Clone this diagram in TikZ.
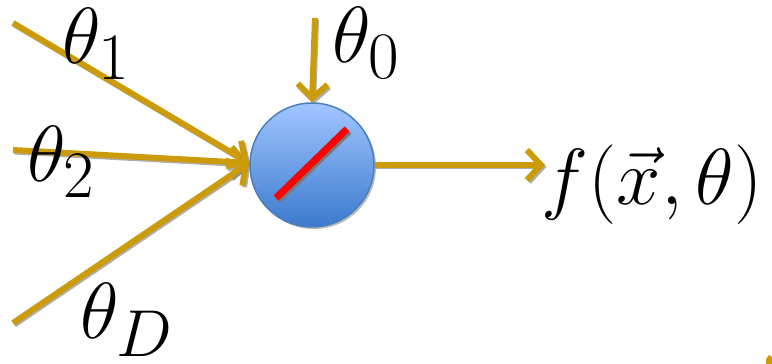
\documentclass[tikz,border=0pt]{standalone}
\usetikzlibrary{arrows.meta}
\definecolor{gold}{RGB}{204,155,10}
\definecolor{shadowgray}{RGB}{120,120,120}
\definecolor{ballTop}{RGB}{160,198,255}
\definecolor{ballBot}{RGB}{60,122,205}
\definecolor{ballEdge}{RGB}{74,126,190}
\tikzset{
  x=1pt,y=1pt,
  conn/.style={draw=gold, line width=6pt, -{Straight Barb[length=14pt,width=30pt,line width=6pt]}},
  connshadow/.style={draw=shadowgray, line width=5pt, -{Straight Barb[length=14pt,width=30pt,line width=5pt]}, opacity=0.6, transform canvas={shift={(1.5pt,-2pt)}}},
  lab/.style={inner sep=0pt, anchor=base west, font=\Huge, scale=3.2},
}
\begin{document}
\begin{tikzpicture}
\useasboundingbox (0,0) rectangle (772,364);
% coordinates
\coordinate (s1) at (13,341);
\coordinate (s2) at (13,214);
\coordinate (sD) at (13,41);
\coordinate (s0) at (315,346);
\coordinate (tip) at (249,201);
% shadows
\draw[connshadow] (s1) -- (tip);
\draw[connshadow] (s2) -- (tip);
\draw[connshadow] (sD) -- (tip);
\fill[shadowgray, opacity=0.5] (314,197) circle (62);
% neuron
\node[circle, minimum size=124pt, inner sep=0pt, top color=ballTop, bottom color=ballBot, draw=ballEdge, line width=1.5pt] (n) at (312,199) {};
\coordinate (r1) at (276,166);
\coordinate (r2) at (347,235);
\draw[shadowgray, line width=7pt, transform canvas={shift={(2pt,-2pt)}}] (r1) -- (r2);
\draw[red, line width=7pt] (r1) -- (r2);
% arrows
\draw[conn] (s1) -- (tip);
\draw[conn] (s2) -- (tip);
\draw[conn] (sD) -- (tip);
\draw[connshadow] (s0) -- (n.north);
\draw[conn] (s0) -- (n.north);
\coordinate (out) at (545,199);
\draw[connshadow] (n.east) -- (out);
\draw[conn] (n.east) -- (out);
% labels
\node[lab] (l1) at (62,300) {$\theta_1$};
\node[lab] (l2) at (27,182) {$\theta_2$};
\node[lab] (lD) at (80,25) {$\theta_D$};
\node[lab] (l0) at (332,301) {$\theta_0$};
\node[lab] (lf) at (541,159) {$f(\vec{x},\theta)$};
% small fragment at bottom right
\fill[gold] (766,0) -- (766,5) -- (769,9) -- (772,7) -- (772,0) -- cycle;
\end{tikzpicture}
\end{document}
